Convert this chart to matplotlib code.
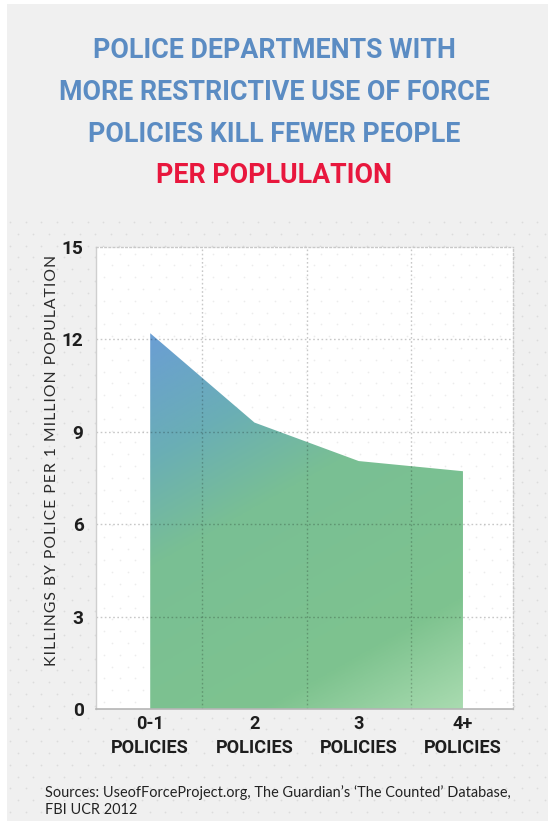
import numpy as np
import matplotlib
matplotlib.use("Agg")
import matplotlib.pyplot as plt
from matplotlib import font_manager
from matplotlib.colors import LinearSegmentedColormap
from matplotlib.patches import Rectangle, PathPatch

# ---- data -------------------------------------------------------------
categories = ["0-1\nPOLICIES", "2\nPOLICIES", "3\nPOLICIES", "4+\nPOLICIES"]
killings_per_million = [12.2, 9.3, 8.05, 7.72]
y_ticks = [0, 3, 6, 9, 12, 15]

title_lines = ["POLICE DEPARTMENTS WITH",
               "MORE RESTRICTIVE USE OF FORCE",
               "POLICIES KILL FEWER PEOPLE"]
title_highlight = "PER POPLULATION"
y_label = "KILLINGS BY POLICE PER 1 MILLION POPULATION"
source_lines = ["Sources: UseofForceProject.org, The Guardian\u2019s \u2018The Counted\u2019 Database,",
                "FBI UCR 2012"]

# ---- fonts ------------------------------------------------------------
installed = {f.name for f in font_manager.fontManager.ttflist}
HEAD = [f for f in ["Roboto", "Liberation Sans"] if f in installed] + ["DejaVu Sans"]
BODY = [f for f in ["Lato", "Open Sans"] if f in installed] + ["DejaVu Sans"]

W, H = 548, 821
fig = plt.figure(figsize=(W / 100, H / 100), dpi=100)
fig.patch.set_facecolor("white")
renderer = fig.canvas.get_renderer()

# ---- backdrop: grey panel with a dotted texture in the lower part -----
bg = fig.add_axes([0, 0, 1, 1], zorder=0)
bg.set_xlim(0, W)
bg.set_ylim(H, 0)
bg.axis("off")
bg.add_patch(Rectangle((7, 4), W - 7, H - 4, facecolor="#f0f0f0", edgecolor="none"))
dx, dy = 15.5, 11.8
rows = np.arange(222, H, dy)
for i, yy in enumerate(rows):
    xs = np.arange(10 + (dx / 2 if i % 2 else 0), W, dx)
    bg.scatter(xs, np.full_like(xs, yy), s=1.6, color="#dcdcdc", linewidths=0)

px = lambda x: x / W
py = lambda y: 1 - y / H

# ---- main axes ----------------------------------------------------------
ax = fig.add_axes([px(96), py(709), px(513) - px(96), py(247) - py(709)], zorder=1)
ax.set_facecolor("white")

# faint dots inside the plotting area
ax_dots_x = np.arange(0.02, 1.0, 15.5 / 417)
for j, yy in enumerate(np.arange(0.015, 1.0, 11.8 / 462)):
    xs = ax_dots_x + (7.75 / 417 if j % 2 else 0)
    xs = xs[xs < 1]
    ax.scatter(xs, np.full_like(xs, yy), s=1.4, color="#ececec", linewidths=0,
               transform=ax.transAxes, zorder=0.5)

x = np.arange(len(categories))
y = np.array(killings_per_million)

# area with a diagonal blue-to-green gradient
area = ax.fill_between(x, y, 0, facecolor="none", edgecolor="none", zorder=2)
clip = PathPatch(area.get_paths()[0], transform=ax.transData,
                 facecolor="none", edgecolor="none")
ax.add_patch(clip)

cmap = LinearSegmentedColormap.from_list(
    "bluegreen",
    [(0.0, "#6a9ed4"), (0.22, "#6aaeb6"), (0.42, "#79bf94"),
     (0.8, "#7ec38f"), (1.0, "#a9dbb0")])
u = np.linspace(0, 1, 300)[None, :]
v = np.linspace(0, 1, 300)[:, None]
t = np.clip(0.68 * v + 0.32 * u, 0, 1)
img = ax.imshow(t, cmap=cmap, vmin=0, vmax=1, origin="upper", aspect="auto",
                extent=[x[0], x[-1], 0, y.max()], zorder=2, interpolation="bilinear")
img.set_clip_path(clip)

# ---- grid & spines ------------------------------------------------------
ax.set_xlim(-0.52, 3.48)
ax.set_ylim(0, 15)
ax.set_yticks(y_ticks)
ax.set_yticklabels([str(v_) for v_ in y_ticks])
ax.set_xticks(x)
ax.set_xticklabels(categories)

grid_kw = dict(color=(0, 0, 0, 0.22), linestyle=(0, (1.2, 1.8)), linewidth=1.0, zorder=3)
for yy in y_ticks[1:-1]:
    ax.axhline(yy, **grid_kw)
for xx in x[:-1] + 0.5:
    ax.axvline(xx, **grid_kw)

for side in ("top", "right"):
    ax.spines[side].set_linestyle((0, (1.2, 1.8)))
    ax.spines[side].set_color("#c8c8c8")
    ax.spines[side].set_linewidth(1.0)
ax.spines["left"].set_color("#cfcfcf")
ax.spines["bottom"].set_color("#b5b5b5")
ax.spines["left"].set_linewidth(1.0)
ax.spines["bottom"].set_linewidth(1.2)
for s in ax.spines.values():
    s.set_zorder(4)

ax.tick_params(axis="both", which="both", length=0)
ax.tick_params(axis="y", pad=9)
ax.tick_params(axis="x", pad=4)

# category labels sized so "POLICIES" spans about 78 px
probe = fig.text(0, 0, "POLICIES", family=HEAD, weight="bold", fontsize=12)
cat_size = 12 * 78 / probe.get_window_extent(renderer).width
probe.remove()
for lbl in ax.get_xticklabels():
    lbl.set_family(HEAD)
    lbl.set_weight("bold")
    lbl.set_fontsize(cat_size)
    lbl.set_color("#1e1e1e")
    lbl.set_linespacing(1.45)
for lbl in ax.get_yticklabels():
    lbl.set_family(HEAD)
    lbl.set_weight("bold")
    lbl.set_fontsize(cat_size * 1.05)
    lbl.set_color("#1e1e1e")

# ---- titles ---------------------------------------------------------------
t_objs = []
for line, base in zip(title_lines, [58, 100, 142]):
    t_objs.append(fig.text(0.5, py(base), line, color="#5b8cc3", ha="center",
                           va="baseline", family=HEAD, weight="bold", fontsize=20))
t_objs.append(fig.text(0.5, py(183), title_highlight, color="#e8173d", ha="center",
                       va="baseline", family=HEAD, weight="bold", fontsize=20))
wide = t_objs[1].get_window_extent(renderer).width
size = 20 * 430 / wide
for t_ in t_objs:
    t_.set_fontsize(size)

# letter-spaced axis title
spaced = "\u200a".join(y_label)
ylab = fig.text(px(52), py(460), spaced, rotation=90, ha="center", va="center",
                family=BODY, fontsize=10, color="#2a2a2a")
lh = ylab.get_window_extent(renderer).height
ylab.set_fontsize(10 * 405 / lh)

src = []
for line, base in zip(source_lines, [797, 814]):
    src.append(fig.text(px(45), py(base), line, ha="left", va="baseline",
                        family=BODY, fontsize=10, color="#222222"))
sw = src[0].get_window_extent(renderer).width
for s_ in src:
    s_.set_fontsize(10 * 465 / sw)

fig.savefig("out.png", dpi=100, facecolor=fig.get_facecolor())
